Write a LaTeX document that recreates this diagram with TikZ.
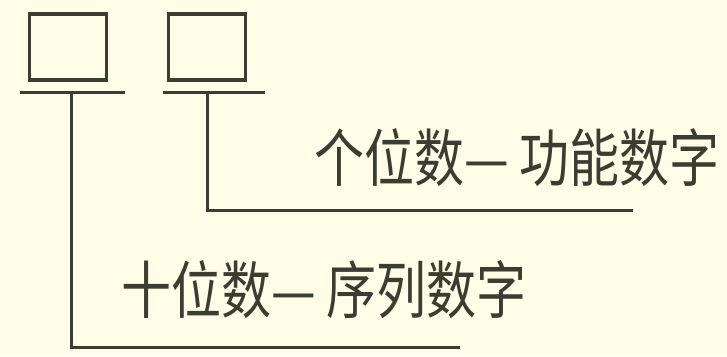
\documentclass[tikz,border=0pt]{standalone}
\usepackage{fontspec}
\newfontfamily\cjk{Noto Sans CJK SC}
\definecolor{bg}{HTML}{FFFDE8}
\definecolor{ink}{HTML}{3A3D30}
\begin{document}
\begin{tikzpicture}[x=1pt,y=-1pt,
  ln/.style={draw=ink,line width=3pt},
  boxs/.style={draw=ink,line width=3.5pt,minimum width=77pt,minimum height=66pt,inner sep=0pt},
  lbl/.style={text=ink,font=\cjk\fontsize{50}{50}\selectfont,inner sep=0pt}]
\fill[bg] (0,0) rectangle (727,356);
\useasboundingbox (0,0) rectangle (727,356);
\node[boxs] (b1) at (68,47) {};
\node[boxs] (b2) at (207,47) {};
\coordinate (l1a) at (20,92);
\coordinate (l1b) at (125,92);
\coordinate (l2a) at (163,92);
\coordinate (l2b) at (265,92);
\draw[ln] (l1a) -- (l1b);
\draw[ln] (l2a) -- (l2b);
\coordinate (v1) at (71,92);
\coordinate (v2) at (207,92);
\coordinate (e1) at (460,347);
\coordinate (e2) at (633,210);
\draw[ln] (v1) |- (e1);
\draw[ln] (v2) |- (e2);
\node[lbl] (t1) at (517,158) {\scalebox{1}[1.25]{个位数— 功能数字}};
\node[lbl] (t2) at (324,290) {\scalebox{1}[1.25]{十位数— 序列数字}};
\end{tikzpicture}
\end{document}
